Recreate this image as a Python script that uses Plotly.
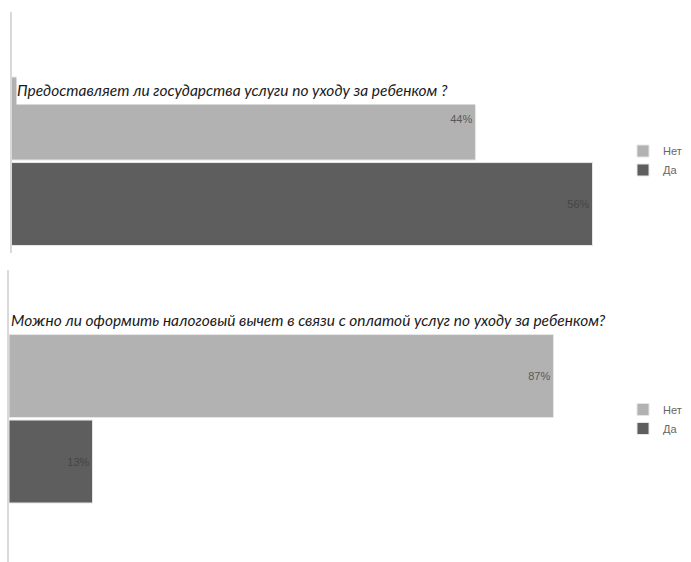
import plotly.graph_objects as go

W, H = 691, 562

questions = [
    "Предоставляет ли государства услуги по уходу за ребенком ?",
    "Можно ли оформить налоговый вычет в связи с оплатой услуг по уходу за ребенком?",
]
categories = ["Нет", "Да"]
top_values = [44.4, 55.6]
bottom_values = [86.7, 13.3]

bar_colors = {"Нет": "#b2b2b2", "Да": "#5e5e5e"}
text_colors = {"Нет": "#595959", "Да": "#454545"}

def px_x(v):
    return v / W

def px_y(v):
    return 1 - v / H

fig = go.Figure()

panels = [
    (top_values, "x", "y", "legend"),
    (bottom_values, "x2", "y2", "legend2"),
]
for vals, xa, ya, lg in panels:
    for cat, val in zip(categories, vals):
        fig.add_trace(go.Bar(
            x=[val], y=[cat], orientation="h", name=cat,
            xaxis=xa, yaxis=ya, legend=lg,
            marker=dict(color=bar_colors[cat], line=dict(color="#e6e6e6", width=1)),
            texttemplate="%{x:.0f}%", textposition="inside", insidetextanchor="end",
            textfont=dict(family="Liberation Sans Narrow, Liberation Sans, sans-serif", size=11, color=text_colors[cat]),
            hoverinfo="skip",
        ))

axis_common = dict(showgrid=False, zeroline=False, showticklabels=False, ticks="", fixedrange=True)
legend_font = dict(family="Liberation Sans Narrow, Liberation Sans, sans-serif", size=11, color="#666666")
title_font = dict(family="Lato, sans-serif", size=15.5, color="#1a1a1a")

fig.update_layout(
    width=W, height=H,
    margin=dict(l=0, r=0, t=0, b=0),
    paper_bgcolor="white", plot_bgcolor="white",
    barmode="overlay", bargap=0.03,
    xaxis=dict(domain=[px_x(11.5), px_x(638.5)], range=[0, 60], anchor="y", **axis_common),
    yaxis=dict(domain=[px_y(253), px_y(12)], range=[1.573, -1.246], type="category",
               categoryorder="array", categoryarray=categories, anchor="x",
               showline=True, linecolor="#d9d9d9", linewidth=1.5, **axis_common),
    xaxis2=dict(domain=[px_x(9), px_x(637)], range=[0, 100], anchor="y2", **axis_common),
    yaxis2=dict(domain=[px_y(562), px_y(270)], range=[2.175, -1.240], type="category",
                categoryorder="array", categoryarray=categories, anchor="x2",
                showline=True, linecolor="#d9d9d9", linewidth=1.5, **axis_common),
    legend=dict(x=px_x(623), y=px_y(160.5), xanchor="left", yanchor="middle",
                font=legend_font, itemwidth=30, traceorder="normal", bgcolor="rgba(0,0,0,0)"),
    legend2=dict(x=px_x(623), y=px_y(419), xanchor="left", yanchor="middle",
                 font=legend_font, itemwidth=30, traceorder="normal", bgcolor="rgba(0,0,0,0)"),
    annotations=[
        dict(text="<i>" + questions[0] + "</i>", xref="paper", yref="paper",
             x=px_x(16), y=px_y(89.5), xanchor="left", yanchor="middle",
             showarrow=False, align="left", width=464, height=28,
             bgcolor="white", borderpad=0, font=title_font),
        dict(text="<i>" + questions[1] + "</i>", xref="paper", yref="paper",
             x=px_x(9), y=px_y(320), xanchor="left", yanchor="middle",
             showarrow=False, align="left", font=title_font),
    ],
)

fig.write_html("out.html", config={"displayModeBar": False},
               post_script="document.body.style.margin='0';")
